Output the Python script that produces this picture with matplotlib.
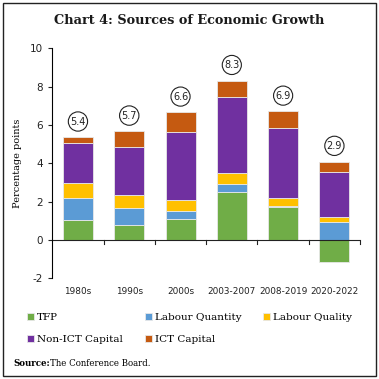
import matplotlib
matplotlib.use("Agg")
import matplotlib.pyplot as plt
import numpy as np
from matplotlib.patches import Rectangle

plt.rcParams["axes.unicode_minus"] = False

categories = ["1980s", "1990s", "2000s", "2003-2007", "2008-2019", "2020-2022"]
tfp = [1.04, 0.78, 1.08, 2.49, 1.70, -1.17]
labour_quantity = [1.17, 0.91, 0.45, 0.45, 0.06, 0.96]
labour_quality = [0.75, 0.64, 0.54, 0.54, 0.45, 0.26]
non_ict = [2.12, 2.50, 3.58, 3.98, 3.65, 2.35]
ict = [0.28, 0.84, 1.01, 0.85, 0.85, 0.52]
totals = ["5.4", "5.7", "6.6", "8.3", "6.9", "2.9"]

series = [("TFP", tfp, "#70AD47"),
          ("Labour Quantity", labour_quantity, "#5B9BD5"),
          ("Labour Quality", labour_quality, "#FFC000"),
          ("Non-ICT Capital", non_ict, "#7030A0"),
          ("ICT Capital", ict, "#C55A11")]

fig = plt.figure(figsize=(3.79, 3.79), dpi=100)
fig.patches.append(Rectangle((0.008, 0.008), 0.984, 0.984, transform=fig.transFigure,
                             fill=False, edgecolor="#222222", linewidth=1.0))
fig.text(0.5, 0.945, "Chart 4: Sources of Economic Growth", ha="center", va="center",
         fontsize=9.3, fontweight="bold", family="DejaVu Serif", color="#1a1a1a")

ax = fig.add_axes([0.138, 0.2657, 0.812, 0.6069])
x = np.arange(len(categories))
width = 0.585
pos_bottom = np.zeros(len(categories))
neg_bottom = np.zeros(len(categories))
handles = {}
for name, vals, col in series:
    vals = np.array(vals)
    bottoms = np.where(vals >= 0, pos_bottom, neg_bottom)
    b = ax.bar(x, vals, width, bottom=bottoms, color=col, edgecolor="#e8e8e8",
               linewidth=0.6, label=name)
    handles[name] = b
    pos_bottom += np.where(vals >= 0, vals, 0)
    neg_bottom += np.where(vals < 0, vals, 0)

for xi, top, lab in zip(x, pos_bottom, totals):
    ax.text(xi, top + 0.82, lab, ha="center", va="center", fontsize=7,
            family="DejaVu Sans", color="#222222",
            bbox=dict(boxstyle="circle,pad=0.2", facecolor="white",
                      edgecolor="#222222", linewidth=0.8))

ax.set_xlim(-0.5, 5.5)
ax.set_ylim(-2, 10)
ax.set_yticks([-2, 0, 2, 4, 6, 8, 10])
ax.tick_params(axis="y", labelsize=7.5, length=3, width=0.8, colors="#222222")
ax.set_xticks(x)
ax.set_xticklabels(categories, fontsize=6.4)
ax.tick_params(axis="x", length=0, pad=6, colors="#222222")
for s in ["top", "right", "bottom"]:
    ax.spines[s].set_visible(False)
ax.spines["left"].set_linewidth(0.8)
ax.axhline(0, color="#222222", linewidth=0.8)
for bx in np.arange(0.5, 6.0, 1.0):
    ax.plot([bx, bx], [0, -0.2], color="#222222", linewidth=0.8, clip_on=False)
ax.set_ylabel("Percentage points", family="DejaVu Serif", fontsize=7, labelpad=6)

order = ["TFP", "Non-ICT Capital", "Labour Quantity", "ICT Capital", "Labour Quality"]
fig.legend(handles=[handles[n] for n in order], labels=order, loc="upper left",
           bbox_to_anchor=(0.047, 0.2), ncol=3, frameon=False,
           prop={"family": "DejaVu Serif", "size": 7.5},
           handlelength=0.65, handleheight=0.65, handletextpad=0.3,
           columnspacing=2.1, labelspacing=1.25)

fig.text(0.035, 0.04, "Source:", fontsize=6.2, fontweight="bold", family="DejaVu Serif",
         va="center")
fig.text(0.132, 0.04, "The Conference Board.", fontsize=6.2, family="DejaVu Serif",
         va="center")

fig.savefig("out.png", dpi=100)
